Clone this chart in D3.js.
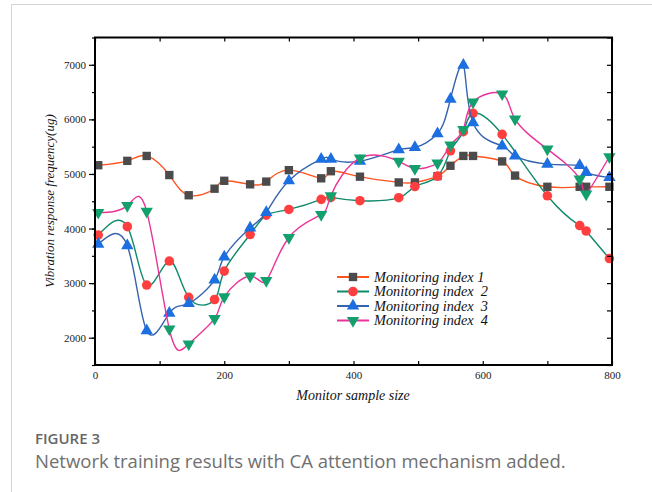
<!DOCTYPE html>
<html>
<head>
<meta charset="utf-8">
<script src="https://cdn.jsdelivr.net/npm/d3@7"></script>
<style>
  body { margin: 0; background: #fff; }
  svg { display: block; }
</style>
</head>
<body>
<div id="chart"></div>
<script>
// data
const names = ["Monitoring index 1", "Monitoring index  2", "Monitoring index  3", "Monitoring index  4"];

const x1 = [5, 50, 80, 115, 145, 185, 200, 240, 265, 300, 350, 365, 410, 470, 495, 530, 550, 570, 585, 630, 650, 700, 750, 760, 796];
const y1 = [5160, 5240, 5330, 4980, 4610, 4730, 4875, 4810, 4860, 5070, 4920, 5050, 4950, 4845, 4845, 4960, 5150, 5330, 5330, 5230, 4970, 4765, 4765, 4765, 4765];

const x2 = [5, 50, 80, 115, 145, 185, 200, 240, 265, 300, 350, 365, 410, 470, 495, 530, 550, 570, 585, 630, 700, 750, 760, 796];
const y2 = [3880, 4035, 2965, 3405, 2740, 2700, 3220, 3890, 4245, 4350, 4535, 4570, 4510, 4565, 4770, 4960, 5425, 5775, 6110, 5725, 4600, 4055, 3955, 3450];

const x3 = [5, 50, 80, 115, 145, 185, 200, 240, 265, 300, 350, 365, 410, 470, 495, 530, 550, 570, 585, 630, 650, 700, 750, 760, 796];
const y3 = [3715, 3685, 2130, 2450, 2630, 3060, 3480, 4010, 4295, 4875, 5270, 5270, 5235, 5445, 5485, 5740, 6370, 6995, 5940, 5515, 5330, 5180, 5155, 5030, 4935];

const x4 = [5, 50, 80, 115, 145, 185, 200, 240, 265, 300, 350, 365, 410, 470, 495, 530, 550, 570, 585, 630, 650, 700, 750, 760, 796];
const y4 = [4295, 4420, 4315, 2160, 1885, 2350, 2750, 3130, 3045, 3835, 4255, 4600, 5290, 5230, 5100, 5200, 5530, 5815, 6315, 6465, 6005, 5455, 4905, 4630, 5315];

const xTicks = [0, 200, 400, 600, 800];
const yTicks = [2000, 3000, 4000, 5000, 6000, 7000];

const series = [
  { name: names[0], xs: x1, ys: y1, line: "#ff5420", fill: "#4b4b4b", sym: d3.symbolSquare, size: 70, rot: 0 },
  { name: names[1], xs: x2, ys: y2, line: "#0f8a6b", fill: "#ff3f3f", sym: d3.symbolCircle, size: 72, rot: 0 },
  { name: names[2], xs: x3, ys: y3, line: "#3563ad", fill: "#1c6fe0", sym: d3.symbolTriangle, size: 66, rot: 0 },
  { name: names[3], xs: x4, ys: y4, line: "#ea3399", fill: "#14a06c", sym: d3.symbolTriangle, size: 66, rot: 180 }
];

const W = 652, H = 492;
const svg = d3.select("#chart").append("svg")
  .attr("width", W)
  .attr("height", H);

// light page border
svg.append("path")
  .attr("d", `M11.5,${H} V4.5 H${W}`)
  .attr("fill", "none")
  .attr("stroke", "#d4d4d4")
  .attr("stroke-width", 1);

const x = d3.scaleLinear().domain([0, 800]).range([95, 612]);
const y = d3.scaleLinear().domain([1500, 7500]).range([365, 37.5]);

const serif = "'Times New Roman', 'Liberation Serif', 'DejaVu Serif', serif";

// series
const line = d3.line()
  .x(d => x(d[0]))
  .y(d => y(d[1]))
  .curve(d3.curveNatural);

series.forEach(s => {
  const pts = s.xs.map((v, i) => [v, s.ys[i]]);
  svg.append("path")
    .datum(pts)
    .attr("fill", "none")
    .attr("stroke", s.line)
    .attr("stroke-width", 1.4)
    .attr("d", line);

  svg.append("g").selectAll("path")
    .data(pts)
    .enter().append("path")
    .attr("d", d3.symbol().type(s.sym).size(s.size))
    .attr("transform", d => `translate(${x(d[0])},${y(d[1])}) rotate(${s.rot})`)
    .attr("fill", s.fill);
});

// axes
const minorX = d3.range(0, 801, 100);
const minorY = d3.range(1500, 7501, 500);

const axL = svg.append("g").attr("transform", "translate(95,0)")
  .call(d3.axisLeft(y).tickValues(minorY).tickSize(3).tickFormat(""));
const axL2 = svg.append("g").attr("transform", "translate(95,0)")
  .call(d3.axisLeft(y).tickValues(yTicks).tickSize(6).tickPadding(3).tickFormat(d3.format("d")));
const axR = svg.append("g").attr("transform", "translate(612,0)")
  .call(d3.axisLeft(y).tickValues(minorY).tickSize(5).tickFormat(""));
const axB = svg.append("g").attr("transform", "translate(0,365)")
  .call(d3.axisTop(x).tickValues(minorX).tickSize(4).tickFormat(""));
const axB2 = svg.append("g").attr("transform", "translate(0,365)")
  .call(d3.axisBottom(x).tickValues(xTicks).tickSize(0).tickPadding(6).tickFormat(d3.format("d")));
const axT = svg.append("g").attr("transform", "translate(0,37.5)")
  .call(d3.axisBottom(x).tickValues(minorX).tickSize(4).tickFormat(""));

[axL, axL2, axR, axB, axB2, axT].forEach(g => {
  g.attr("font-family", serif);
  g.select(".domain").remove();
  g.selectAll("line").attr("stroke", "#000").attr("stroke-width", 1.2);
  g.selectAll("text")
    .attr("fill", "#222")
    .style("font-family", serif)
    .style("font-size", "11px");
});

// frame
svg.append("rect")
  .attr("x", 95).attr("y", 37.5)
  .attr("width", 517).attr("height", 327.5)
  .attr("fill", "none")
  .attr("stroke", "#000")
  .attr("stroke-width", 2);

// axis titles
svg.append("text")
  .attr("x", 353).attr("y", 400)
  .attr("text-anchor", "middle")
  .style("font-family", serif)
  .style("font-style", "italic")
  .style("font-size", "14px")
  .attr("fill", "#111")
  .text("Monitor sample size");

svg.append("text")
  .attr("transform", "translate(54,201) rotate(-90)")
  .attr("text-anchor", "middle")
  .style("font-family", serif)
  .style("font-style", "italic")
  .style("font-size", "13px")
  .attr("fill", "#111")
  .text("Vibration response frequency(ug)");

// legend
const legend = svg.append("g").attr("transform", "translate(337,277)");
series.forEach((s, i) => {
  const row = legend.append("g").attr("transform", `translate(0,${i * 14.5})`);
  row.append("line")
    .attr("x1", 0).attr("x2", 32)
    .attr("stroke", s.line)
    .attr("stroke-width", 2);
  row.append("path")
    .attr("d", d3.symbol().type(s.sym).size(s.size))
    .attr("transform", `translate(16,0) rotate(${s.rot})`)
    .attr("fill", s.fill);
  row.append("text")
    .attr("x", 37).attr("y", 4.5)
    .style("font-family", serif)
    .style("font-style", "italic")
    .style("font-size", "14.3px")
    .style("white-space", "pre")
    .attr("fill", "#111")
    .text(s.name);
});

// caption
svg.append("text")
  .attr("x", 35).attr("y", 444)
  .style("font-family", "'Open Sans', sans-serif")
  .style("font-size", "15px")
  .style("font-weight", 600)
  .attr("fill", "#666")
  .text("FIGURE 3");

svg.append("text")
  .attr("x", 35).attr("y", 468)
  .style("font-family", "'Open Sans', sans-serif")
  .style("font-size", "18.5px")
  .attr("fill", "#707070")
  .text("Network training results with CA attention mechanism added.");
</script>
</body>
</html>
